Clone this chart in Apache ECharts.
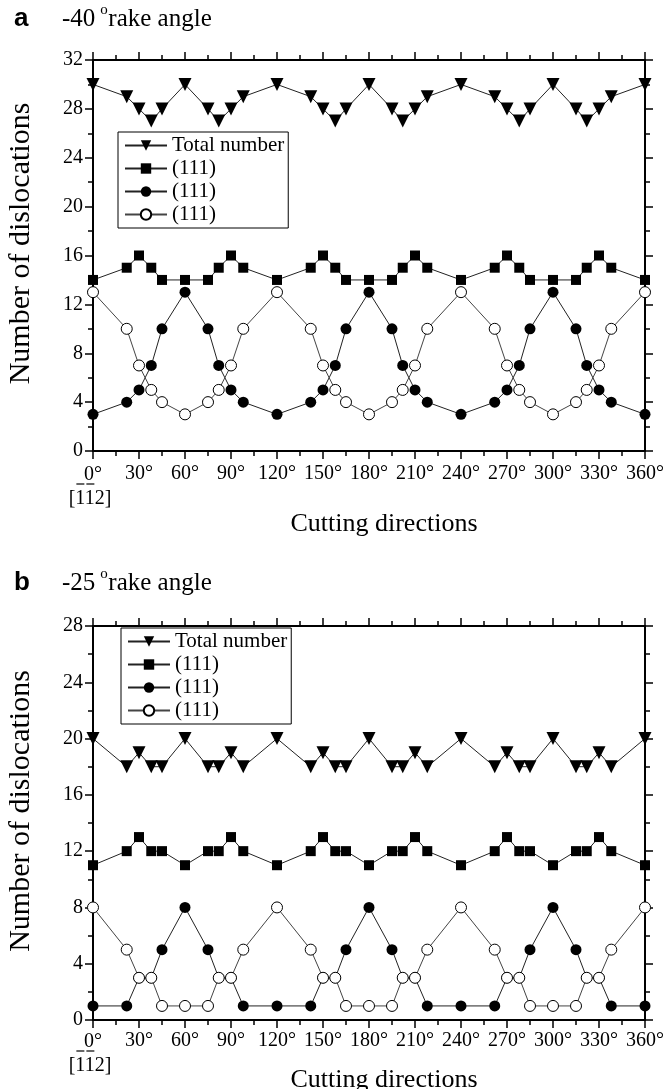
<!DOCTYPE html>
<html><head><meta charset="utf-8">
<script src="https://cdn.jsdelivr.net/npm/echarts@6/dist/echarts.min.js"></script>
<style>html,body{margin:0;padding:0;background:#fff}#c{width:664px;height:1089px}</style>
</head><body><div id="c"></div>
<script>
// ---- data ----
const angles = [0,22,30,38,45,60,75,82,90,98,120,142,150,158,165,180,195,202,210,218,240,262,270,278,285,300,315,322,330,338,360];
const totalA  = [30,29,28,27,28,30,28,27,28,29,30,29,28,27,28,30,28,27,28,29,30,29,28,27,28,30,28,27,28,29,30];
const planeA1 = [14,15,16,15,14,14,14,15,16,15,14,15,16,15,14,14,14,15,16,15,14,15,16,15,14,14,14,15,16,15,14];
const planeA2 = [3,4,5,7,10,13,10,7,5,4,3,4,5,7,10,13,10,7,5,4,3,4,5,7,10,13,10,7,5,4,3];
const planeA3 = [13,10,7,5,4,3,4,5,7,10,13,10,7,5,4,3,4,5,7,10,13,10,7,5,4,3,4,5,7,10,13];
const totalB  = [20,18,19,18,18,20,18,18,19,18,20,18,19,18,18,20,18,18,19,18,20,18,19,18,18,20,18,18,19,18,20];
const planeB1 = [11,12,13,12,12,11,12,12,13,12,11,12,13,12,12,11,12,12,13,12,11,12,13,12,12,11,12,12,13,12,11];
const planeB2 = [1,1,3,3,5,8,5,3,3,1,1,1,3,3,5,8,5,3,3,1,1,1,3,3,5,8,5,3,3,1,1];
const planeB3 = [8,5,3,3,1,1,1,3,3,5,8,5,3,3,1,1,1,3,3,5,8,5,3,3,1,1,1,3,3,5,8];
const legendLabels = ['Total number','(111)','(111)','(111)'];
const panelTitles = [{tag:'a', num:'-40', rest:'rake angle'},{tag:'b', num:'-25', rest:'rake angle'}];
const xTitle = 'Cutting directions';
const yTitle = 'Number of dislocations';
const zeroSub = '[112]';

// ---- styling ----
const SERIF = '"Liberation Serif","Times New Roman",serif';
const SANS = '"Liberation Sans",Arial,sans-serif';
const FS = 20, LFS = 21;
const G = [{left:93, width:552, top:60, height:391, yMax:32, legL:118, legT:132, xGap:60, lm:13, titleTop:7},
           {left:93, width:552, top:626, height:394, yMax:28, legL:121, legT:628, xGap:47, lm:11, titleTop:571}];

const chart = echarts.init(document.getElementById('c'), null, {renderer:'canvas'});

const axLine = {show:true, onZero:false, lineStyle:{color:'#000', width:2}};
const axTick = {show:true, length:8, lineStyle:{color:'#000', width:1.5}};
const minTick = {show:true, splitNumber:2, length:5, lineStyle:{color:'#000', width:1.5}};

const grids=[], xAxes=[], yAxes=[], series=[], legends=[];
const sets = [[totalA,planeA1,planeA2,planeA3],[totalB,planeB1,planeB2,planeB3]];
const names = [['aT','a1','a2','a3'],['bT','b1','b2','b3']];
const nameMap = {};
G.forEach((g,gi)=>{
  grids.push({left:g.left, top:g.top, width:g.width, height:g.height, containLabel:false, outerBoundsMode:'none'});
  const xb = {type:'value', gridIndex:gi, min:0, max:360, interval:30, axisLine:axLine, axisTick:axTick,
    minorTick:minTick, splitLine:{show:false}, minorSplitLine:{show:false}};
  xAxes.push(Object.assign({}, xb, {position:'bottom',
    axisLabel:{margin:g.lm, color:'#000', fontFamily:SERIF, fontSize:FS,
      formatter: v => v===0 ? '{a|0°}\n{b|'+zeroSub+'}' : v+'°',
      rich:{a:{fontFamily:SERIF,fontSize:FS,lineHeight:22,color:'#000'},
            b:{fontFamily:SERIF,fontSize:FS,lineHeight:26,color:'#000',padding:[0,6,0,0]}}},
    name:xTitle, nameLocation:'middle', nameGap:g.xGap, nameMoveOverlap:false,
    nameTextStyle:{fontFamily:SERIF, fontSize:26, color:'#000', padding:[0,0,0,30]}}));
  xAxes.push(Object.assign({}, xb, {position:'top', axisLabel:{show:false}}));
  const yb = {type:'value', gridIndex:gi, min:0, max:g.yMax, interval:4, axisLine:axLine, axisTick:axTick,
    minorTick:minTick, splitLine:{show:false}, minorSplitLine:{show:false}};
  yAxes.push(Object.assign({}, yb, {position:'left',
    axisLabel:{margin:10, color:'#000', fontFamily:SERIF, fontSize:FS},
    name:yTitle, nameLocation:'middle', nameRotate:90, nameGap:57, nameMoveOverlap:false,
    nameTextStyle:{fontFamily:SERIF, fontSize:30, color:'#000', padding:[0,0,0,24]}}));
  yAxes.push(Object.assign({}, yb, {position:'right', axisLabel:{show:false}}));
  const [T,P1,P2,P3] = sets[gi];
  const nm = names[gi];
  nm.forEach((n,i)=>nameMap[n]=legendLabels[i]);
  const xi = gi*2, yi = gi*2;
  const mk = (name, vals, sym, size, fill, rot, lc) => ({
    type:'line', name, xAxisIndex:xi, yAxisIndex:yi, animation:false,
    data: angles.map((a,i)=>[a, vals[i]]),
    symbol:sym, symbolSize:size, symbolRotate:rot, showSymbol:true,
    itemStyle:{color:fill, borderColor:'#000', borderWidth: fill==='#fff'?1:0, opacity:1},
    lineStyle:{color:lc, width:1}, emphasis:{disabled:true}
  });
  series.push(mk(nm[0], T, 'triangle', 13, '#000', 180, '#222'));
  series.push(mk(nm[1], P1, 'rect', 10, '#000', 0, '#222'));
  series.push(mk(nm[2], P2, 'circle', 11, '#000', 0, '#222'));
  series.push(mk(nm[3], P3, 'circle', 11, '#fff', 0, '#444'));
  legends.push({data:nm, left:g.legL, top:g.legT, orient:'vertical', itemWidth:42, itemHeight:13,
    itemGap:2, padding:[3,4,3,6], borderColor:'#000', borderWidth:1, borderRadius:0,
    selectedMode:false, formatter:n=>nameMap[n], backgroundColor:'#fff',
    textStyle:{fontFamily:SERIF, fontSize:LFS, color:'#000', lineHeight:21}});
});

chart.setOption({backgroundColor:'#fff', animation:false, grid:grids, xAxis:xAxes, yAxis:yAxes,
  series, legend:legends});

// ---- annotations: titles and bar marks (overline/underline) ----
const ctx = document.createElement('canvas').getContext('2d');
const wf = (s,f) => { ctx.font = f; return ctx.measureText(s).width; };
const gr = [];
const bar = (x1,x2,y) => gr.push({type:'line', shape:{x1,y1:y,x2,y2:y}, style:{stroke:'#000', lineWidth:1.2}, silent:true});
G.forEach((g,gi)=>{
  const t = panelTitles[gi];
  const ty = g.titleTop;
  const TF = '25px '+SERIF;
  gr.push({type:'text', left:14, top:ty-1, style:{text:t.tag, font:'bold 26px '+SANS, fill:'#000'}});
  gr.push({type:'text', left:62, top:ty, style:{text:t.num, font:TF, fill:'#000'}});
  const ox = 62 + wf(t.num, TF) + 5;
  gr.push({type:'text', left:ox, top:ty-4, style:{text:'o', font:'15px '+SERIF, fill:'#000'}});
  gr.push({type:'text', left:ox+8, top:ty, style:{text:t.rest, font:TF, fill:'#000'}});
  // legend bars
  const LF = LFS+'px '+SERIF;
  const tx = g.legL + 6 + 42 + 5;
  const rowH = 21 + 2;
  const cy = i => g.legT + 3 + i*rowH + 10.5;
  const one = wf('1', LF);
  let x0 = tx + wf('(11', LF); bar(x0+1, x0+one-1, cy(1)+9);
  x0 = tx + wf('(1', LF); bar(x0+1, x0+one-1, cy(2)+9);
  x0 = tx + wf('(1', LF); bar(x0+1, x0+one-1, cy(3)-10);
  // [1-1-2] overbars under 0 label
  const XF = FS+'px '+SERIF;
  const px0 = chart.convertToPixel({xAxisIndex:gi*2}, 0);
  const W = wf(zeroSub, XF);
  const s0 = px0 - 3 - W/2;
  const yb = g.top + g.height + g.lm + 20;
  const o2 = wf('1', XF);
  x0 = s0 + wf('[', XF); bar(x0+1, x0+o2-1, yb);
  x0 = s0 + wf('[1', XF); bar(x0+1, x0+o2-1, yb);
});
chart.setOption({graphic:gr});
</script></body></html>
